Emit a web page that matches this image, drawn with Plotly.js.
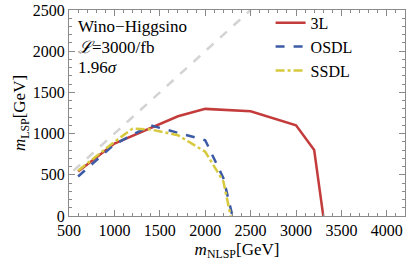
<!DOCTYPE html>
<html><head><meta charset="utf-8">
<script src="https://cdn.plot.ly/plotly-3.0.1.min.js"></script>
<style>html,body{margin:0;padding:0;background:#fff}#c{width:407px;height:267px}</style>
</head><body><div id="c"></div>
<script>
const diagX = [550, 2500];
const diagY = [550, 2500];
const x3L = [600, 1000, 1700, 2000, 2500, 3000, 3200, 3300];
const y3L = [540, 880, 1210, 1300, 1270, 1100, 800, 0];
const xOS = [600, 1000, 1400, 2000, 2200, 2300];
const yOS = [480, 870, 1100, 920, 460, 0];
const xSS = [600, 1000, 1200, 1400, 1700, 2000, 2200, 2280];
const ySS = [550, 900, 1060, 1050, 980, 780, 420, 0];
const names = ['3L', 'OSDL', 'SSDL'];
const textLines = ['Wino\u2212Higgsino', '<i>\u2112</i>=3000/fb', '1.96<i>\u03c3</i>'];

const font = {family: 'Liberation Serif', color: '#000'};
const traces = [
  {x: diagX, y: diagY, mode: 'lines', line: {color: '#d3d3d3', width: 2.5, dash: 'dash'}, showlegend: false, hoverinfo: 'skip'},
  {x: x3L, y: y3L, mode: 'lines', name: names[0], line: {color: '#c43b3b', width: 2.5}},
  {x: xOS, y: yOS, mode: 'lines', name: names[1], line: {color: '#3c5ba6', width: 2.5, dash: 'dash'}},
  {x: xSS, y: ySS, mode: 'lines', name: names[2], line: {color: '#d6c93e', width: 2.5, dash: 'dashdot'}}
];
const axisCommon = {
  showgrid: false, zeroline: false, showline: true, linecolor: '#8a8a8a', linewidth: 1,
  mirror: 'allticks', ticks: 'inside', ticklen: 6, tickcolor: '#8a8a8a', tickwidth: 1,
  tickfont: Object.assign({size: 16}, font)
};
const layout = {
  width: 407, height: 267,
  margin: {l: 69, r: 2, t: 10, b: 51},
  paper_bgcolor: '#fff', plot_bgcolor: '#fff',
  font: font,
  xaxis: Object.assign({}, axisCommon, {
    range: [500, 4200], tickvals: [500,1000,1500,2000,2500,3000,3500,4000],
    minor: {dtick: 100, ticks: 'inside', ticklen: 3, tickcolor: '#8a8a8a'},
    title: {text: '<i>m</i><sub>NLSP</sub>[GeV]', font: Object.assign({size: 17}, font), standoff: 4}
  }),
  yaxis: Object.assign({}, axisCommon, {
    range: [0, 2500], tickvals: [0,500,1000,1500,2000,2500],
    minor: {dtick: 100, ticks: 'inside', ticklen: 3, tickcolor: '#8a8a8a'},
    title: {text: '<i>m</i><sub>LSP</sub>[GeV]', font: Object.assign({size: 17}, font), standoff: 2}
  }),
  legend: {x: 0.6, y: 1.02, xanchor: 'left', yanchor: 'top', bgcolor: 'rgba(0,0,0,0)',
    font: Object.assign({size: 16}, font), tracegroupgap: 0},
  annotations: textLines.map((t, i) => ({
    xref: 'paper', yref: 'paper', x: 0.02, y: 0.975 - i * 0.1, xanchor: 'left', yanchor: 'top',
    text: t, showarrow: false, font: Object.assign({size: 17}, font)
  }))
};
Plotly.newPlot('c', traces, layout, {displayModeBar: false, staticPlot: true});
</script></body></html>
